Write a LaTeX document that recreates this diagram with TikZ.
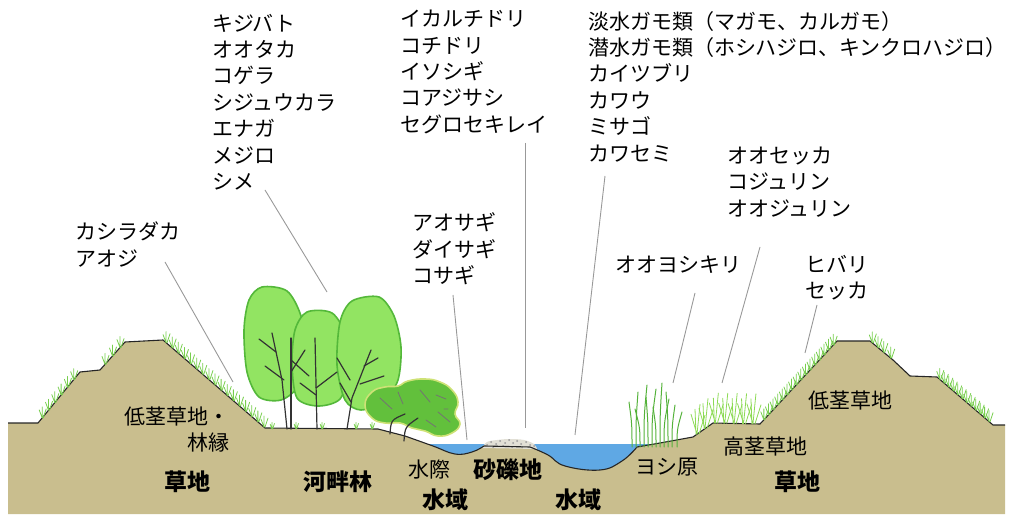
\documentclass[tikz,border=0pt]{standalone}
\usepackage{fontspec}
\newfontfamily\jp{Noto Sans CJK JP}
\usetikzlibrary{calc}

\definecolor{soil}{RGB}{201,190,142}
\definecolor{water}{RGB}{95,168,228}
\definecolor{leaf}{RGB}{146,228,98}
\definecolor{leafedge}{RGB}{84,184,58}
\definecolor{bushfill}{RGB}{98,192,60}
\definecolor{bushedge}{RGB}{206,226,118}
\definecolor{grass}{RGB}{120,206,78}
\definecolor{sedgegreen}{RGB}{140,218,84}
\definecolor{reedgreen}{RGB}{84,178,58}
\definecolor{pebble}{RGB}{226,224,214}

\tikzstyle{birds}=[anchor=west,align=left,inner sep=0pt,font=\jp\fontsize{21}{26.4}\selectfont]
\tikzstyle{area}=[inner sep=0pt,font=\jp\fontsize{21}{26}\selectfont]
\tikzstyle{zone}=[inner sep=0pt,font=\jp\bfseries\fontsize{23}{26}\selectfont]
\tikzstyle{lead}=[draw=black!40,line width=0.9pt]
\tikzstyle{rim}=[draw=black!85,line width=1.1pt,line join=round]
\tikzstyle{crown}=[fill=leaf,draw=leafedge,line width=1.6pt]
\tikzstyle{bush}=[fill=bushfill,draw=bushedge,line width=1.6pt]
\tikzstyle{twig}=[draw=black!80,line width=1.2pt,line cap=round]
\tikzstyle{blade}=[draw=grass,line width=0.8pt,line cap=round]
\tikzstyle{reed}=[draw=reedgreen,line width=1pt,line cap=round]

\tikzset{
  tuft/.pic={\draw[blade] (0,0) -- (-3,-8) (0,0) -- (0,-11) (1,0) -- (4,-9);},
  sedge/.pic={\draw[blade,draw=sedgegreen] (0,0) -- (-6,-20) (0,0) .. controls (1,-15) .. (3,-30)
      (2,0) -- (8,-19) (-1,0) -- (-2,-25);}
}

\def\profile{(l0) -- (l1) -- (l2) -- (l3) -- (l4) -- (l5) -- (l6) -- (l7) -- (l8)
  -- plot[smooth,tension=.7] coordinates {(l8) (433,446) (455,454) (472,452) (484,446)}
  -- (530,447)
  -- plot[smooth,tension=.7] coordinates {(530,447) (548,455) (565,466) (600,470) (622,461) (r0)}
  -- (r1) -- (r2) -- (r3) -- (r4) -- (r5) -- (r6) -- (r7) -- (r8) -- (r9) -- (r10) -- (r11)}

\begin{document}
\begin{tikzpicture}[x=1pt,y=-1pt]
\useasboundingbox (0,0) rectangle (1012,518);

\coordinate (l0) at (8,423);
\coordinate (l1) at (38,423);
\coordinate (l2) at (80,372);
\coordinate (l3) at (100,370);
\coordinate (l4) at (125,342);
\coordinate (l5) at (163,340);
\coordinate (l6) at (265,428);
\coordinate (l7) at (378,429);
\coordinate (l8) at (405,436);
\coordinate (r0) at (637,447);
\coordinate (r1) at (660,443);
\coordinate (r2) at (693,437);
\coordinate (r3) at (713,423);
\coordinate (r4) at (760,424);
\coordinate (r5) at (837,341);
\coordinate (r6) at (870,341);
\coordinate (r7) at (893,360);
\coordinate (r8) at (910,376);
\coordinate (r9) at (937,377);
\coordinate (r10) at (993,425);
\coordinate (r11) at (1005,425);

% ground and water
\fill[water] (426,444) rectangle (650,474);
\fill[soil] \profile -- (1005,514) -- (8,514) -- cycle;
\fill[pebble] plot[smooth,tension=.6] coordinates {(482,448) (487,442) (497,440) (510,439) (524,440) (534,444) (537,449)} -- cycle;
\foreach \x/\y in {487/445,491/442,496/444,500/441,505/443,509/440,513/443,517/441,521/444,526/442,530/445,534/446,493/447,503/446,512/447,522/447}
  \fill[black!40] (\x,\y) circle (1);
\draw[rim] \profile;

% trees
\filldraw[crown] plot[smooth cycle] coordinates {(262,287) (287,291) (301,316) (306,352) (298,386) (281,400) (259,397) (247,372) (244,330) (249,300)};
\filldraw[crown] plot[smooth cycle] coordinates {(307,312) (332,313) (346,336) (349,371) (340,399) (318,406) (297,398) (292,364) (295,330)};
\filldraw[crown] plot[smooth cycle] coordinates {(352,301) (379,297) (394,316) (401,347) (398,380) (384,401) (361,410) (345,400) (337,365) (340,322)};
\draw[twig] (291,429) -- (291,338);
\draw[twig] (287,429) -- (282,380) -- (272,333);
\draw[twig] (259,339) -- (276,352);
\draw[twig] (265,366) -- (284,380);
\draw[twig] (291,360) -- (309,376);
\draw[twig] (291,372) -- (305,350);
\draw[twig] (317,429) -- (315,338);
\draw[twig] (316,395) -- (300,383);
\draw[twig] (316,388) -- (337,372);
\draw[twig] (347,429) -- (352,398) -- (371,350);
\draw[twig] (351,402) -- (340,383);
\draw[twig] (337,358) -- (350,380);
\draw[twig] (360,384) -- (384,376);
\draw[twig] (364,366) -- (378,358);

\filldraw[bush] plot[smooth cycle,tension=.8] coordinates {(365,405) (372,392) (385,387) (398,386) (408,381) (425,379) (440,382) (452,390) (458,402) (455,414) (460,424) (452,433) (438,436) (425,431) (412,428) (400,423) (385,423) (372,418)};
\draw[twig] (390,434) .. controls (391,420) .. (405,414);
\draw[twig] (404,441) .. controls (405,427) .. (418,418);
\draw[twig,draw=black!55,line width=.8pt] (380,398) -- (392,409) (398,392) -- (403,404) (420,390) -- (430,402) (436,395) -- (446,399) (438,412) -- (450,422) (426,420) -- (436,427) (444,409) -- (448,409);

% grass
\foreach \t in {0.1,0.25,...,0.95} \pic at ($(l1)!\t!(l2)$) {tuft};
\foreach \t in {0.2,0.5,0.8} \pic at ($(l3)!\t!(l4)$) {tuft};
\foreach \t in {0.03,0.09,...,0.99} \pic at ($(l5)!\t!(l6)$) {tuft};
\foreach \x in {272,296,322,356,372} \pic[scale=.6] at (\x,429) {tuft};
\foreach \t in {0.05,0.11,...,0.95} \pic at ($(r4)!\t!(r5)$) {tuft};
\foreach \t in {0.1,0.35,0.6,0.9} \pic at ($(r6)!\t!(r7)$) {tuft};
\foreach \t in {0.05,0.13,...,0.95} \pic at ($(r9)!\t!(r10)$) {tuft};
\foreach \t in {0.2,0.6} \pic at ($(r2)!\t!(r3)$) {sedge};
\foreach \t in {0.05,0.25,...,0.95} \pic at ($(r3)!\t!(r4)$) {sedge};

\foreach \x/\h/\d in {632/45/-3,636/55/2,640/38/-5,644/62/3,648/50/-2,652/58/4,656/40/-3,660/64/2,664/48/5,668/55/-2,672/42/3,677/35/5}
  \draw[reed] (\x,447) .. controls (\x,447-\h/2) .. (\x+\d,447-\h);

% bird lists
\node[birds] (kashira) at (75,244.5) {カシラダカ\\アオジ};
\node[birds] (kiji) at (212,102) {キジバト\\オオタカ\\コゲラ\\シジュウカラ\\エナガ\\メジロ\\シメ};
\node[birds] (ikaru) at (400,72) {イカルチドリ\\コチドリ\\イソシギ\\コアジサシ\\セグロセキレイ};
\node[birds] (gamo) at (588,86.5) {淡水ガモ類（マガモ、カルガモ）\\潜水ガモ類（ホシハジロ、キンクロハジロ）\\カイツブリ\\カワウ\\ミサゴ\\カワセミ};
\node[birds] (oseka) at (727,182) {オオセッカ\\コジュリン\\オオジュリン};
\node[birds] (aosagi) at (412,249) {アオサギ\\ダイサギ\\コサギ};
\node[birds] (yoshikiri) at (615,265) {オオヨシキリ};
\node[birds] (hibari) at (805,277.5) {ヒバリ\\セッカ};

\coordinate (kashira-at) at (233,382);
\coordinate (kiji-at) at (327,292);
\coordinate (ikaru-at) at (525,428);
\coordinate (gamo-at) at (575,435);
\coordinate (oseka-at) at (722,383);
\coordinate (aosagi-at) at (467,440);
\coordinate (yoshikiri-at) at (673,383);
\coordinate (hibari-at) at (805,353);

\draw[lead] ($(kashira.west)+(90,17.5)$) -- (kashira-at);
\draw[lead] ($(kiji.west)+(53,88)$) -- (kiji-at);
\draw[lead] ($(ikaru.west)+(125,71)$) -- (ikaru-at);
\draw[lead] ($(gamo.west)+(17,89.5)$) -- (gamo-at);
\draw[lead] ($(oseka.west)+(33,65)$) -- (oseka-at);
\draw[lead] ($(aosagi.west)+(41,46)$) -- (aosagi-at);
\draw[lead] ($(yoshikiri.west)+(80,28)$) -- (yoshikiri-at);
\draw[lead] ($(hibari.west)+(12,27.5)$) -- (hibari-at);

% habitat names
\node[area,anchor=east,align=right] (rinen) at (230,430) {低茎草地・\\林縁};
\node[zone] (kusa-l) at (187,482) {草地};
\node[zone] (kahan) at (338,482) {河畔林};
\node[area] (mizugiwa) at (429,470) {水際};
\node[zone] (sareki) at (508,470) {砂礫地};
\node[zone] (suiiki-l) at (445,500) {水域};
\node[zone] (suiiki-r) at (578,500) {水域};
\node[area] (yoshi) at (667,467) {ヨシ原};
\node[area] (kokei) at (765,447) {高茎草地};
\node[area] (teikei) at (850,400) {低茎草地};
\node[zone] (kusa-r) at (797,482) {草地};
\end{tikzpicture}
\end{document}
